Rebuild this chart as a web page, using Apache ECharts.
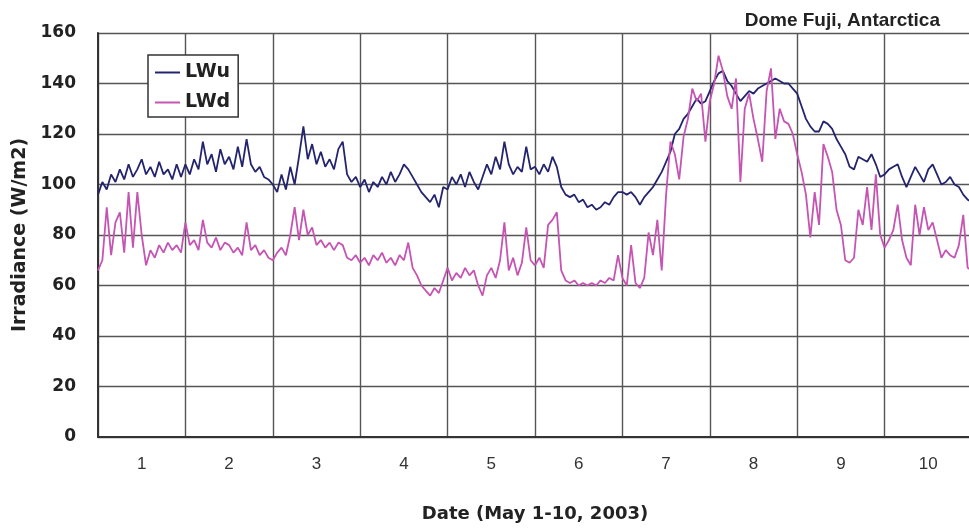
<!DOCTYPE html>
<html>
<head>
<meta charset="utf-8">
<script src="https://cdn.jsdelivr.net/npm/echarts@6/dist/echarts.min.js"></script>
<style>html,body{margin:0;padding:0;background:#fff;overflow:hidden;}#c{width:969px;height:528px;}</style>
</head>
<body>
<div id="c"></div>
<script>
// Day tick labels (May 1-10, 2003)
var dayLabels = ['1','2','3','4','5','6','7','8','9','10'];
// sample step in days (time axis: days since May 1 00:00)
var stepDays = 0.05;

// LWu (upward longwave), W/m2, one value every 0.05 day
var lwu = [
 96,101,98,104,101,106,102,108,103,106,110,104,107,103,109,104,106,102,108,103,
 108,104,110,106,117,108,112,105,114,108,111,106,115,107,118,108,105,107,103,102,
 100,97,104,98,107,100,111,123,110,116,108,113,107,110,106,114,117,104,101,103,
 99,102,97,101,99,103,100,105,101,104,108,106,103,100,97,95,93,96,91,99,
 98,103,100,104,99,105,101,98,103,108,104,111,106,117,108,104,107,105,115,106,
 107,104,108,105,111,107,99,96,95,96,93,94,91,92,90,91,93,92,95,97,
 97,96,97,95,92,95,97,99,102,105,109,113,120,122,126,128,131,134,132,133,
 137,141,144,145,141,139,136,133,135,137,136,138,139,140,141,142,141,140,140,138,
 136,131,126,123,121,121,125,124,122,118,115,112,107,106,111,110,109,112,108,103,
 104,106,107,108,103,99,103,107,104,101,106,108,104,100,101,103,100,99,96,94,
 93
];
// LWd (downward longwave), W/m2, one value every 0.05 day
var lwd = [
 66,70,91,72,85,89,73,97,75,97,80,68,74,71,76,73,77,74,76,73,
 85,76,78,74,86,77,75,79,74,77,76,73,75,72,85,74,76,72,74,71,
 70,73,75,72,80,91,78,90,80,83,76,78,75,77,74,77,76,71,70,72,
 69,71,68,72,70,73,69,71,68,72,70,77,67,64,60,58,56,59,57,62,
 67,62,65,63,67,64,66,60,56,64,67,63,70,85,66,71,64,69,83,70,
 68,71,67,84,86,89,66,62,61,62,60,61,60,61,60,62,61,63,62,72,
 63,60,76,61,59,63,81,72,86,66,96,117,112,102,119,126,138,133,136,117,
 133,140,151,145,135,130,142,101,130,136,126,118,109,137,146,118,130,125,124,120,
 112,105,96,79,97,84,116,111,105,90,84,70,69,71,90,84,99,82,104,80,
 75,78,82,92,78,71,68,92,80,91,82,85,78,71,74,72,71,76,88,67,
 66
];

function pairs(vals){
  var out = [];
  for (var i = 0; i < vals.length; i++) out.push([i * stepDays, vals[i]]);
  return out;
}

var chart = echarts.init(document.getElementById('c'), null, {renderer:'canvas'});
var font = 'Liberation Sans, Arial, sans-serif';
var wide = 'DejaVu Sans, sans-serif';
chart.setOption({
  animation: false,
  backgroundColor: '#fff',
  title: {
    text: 'Dome Fuji, Antarctica',
    right: 24, top: 6,
    textStyle: {fontFamily: font, fontSize: 19, fontWeight: 'bold', color: '#222'}
  },
  legend: {
    orient: 'vertical',
    left: 148, top: 55,
    backgroundColor: '#fff',
    borderColor: '#333', borderWidth: 1.5,
    padding: [8, 8, 5, 7],
    itemGap: 11,
    itemWidth: 25, itemHeight: 2,
    icon: 'rect',
    textStyle: {fontFamily: wide, fontSize: 19, fontWeight: 'bold', color: '#222'},
    data: ['LWu', 'LWd']
  },
  grid: {left: 98, top: 33, right: -3, bottom: 91, containLabel: false, outerBoundsMode: 'none'},
  xAxis: [{
    type: 'category',
    data: dayLabels,
    boundaryGap: true,
    position: 'bottom',
    name: 'Date (May 1-10, 2003)',
    nameLocation: 'middle',
    nameGap: 68,
    nameTextStyle: {fontFamily: wide, fontSize: 18, fontWeight: 'bold', color: '#222'},
    axisLine: {show: true, lineStyle: {color: '#333', width: 2}},
    axisTick: {show: false},
    axisLabel: {margin: 19, fontFamily: font, fontSize: 17, color: '#333'},
    splitLine: {show: true, interval: 0, lineStyle: {color: '#555', width: 1.4}}
  }, {
    type: 'value',
    min: 0, max: 10,
    show: false
  }],
  yAxis: {
    type: 'value',
    min: 0, max: 160, interval: 20,
    name: 'Irradiance (W/m2)',
    nameLocation: 'middle',
    nameGap: 66,
    nameTextStyle: {fontFamily: wide, fontSize: 19, fontWeight: 'bold', color: '#222'},
    axisLine: {show: true, lineStyle: {color: '#333', width: 2}},
    axisTick: {show: false},
    axisLabel: {margin: 22, fontFamily: wide, fontSize: 17, fontWeight: 'bold', color: '#222'},
    splitLine: {show: true, lineStyle: {color: '#555', width: 1.4}}
  },
  series: [{
    name: 'LWu', type: 'line', xAxisIndex: 1,
    data: pairs(lwu), showSymbol: false, symbol: 'none',
    lineStyle: {color: '#24246e', width: 1.8}, itemStyle: {color: '#24246e'}
  }, {
    name: 'LWd', type: 'line', xAxisIndex: 1,
    data: pairs(lwd), showSymbol: false, symbol: 'none',
    lineStyle: {color: '#c554b3', width: 1.8}, itemStyle: {color: '#c554b3'}
  }]
});
</script>
</body>
</html>
